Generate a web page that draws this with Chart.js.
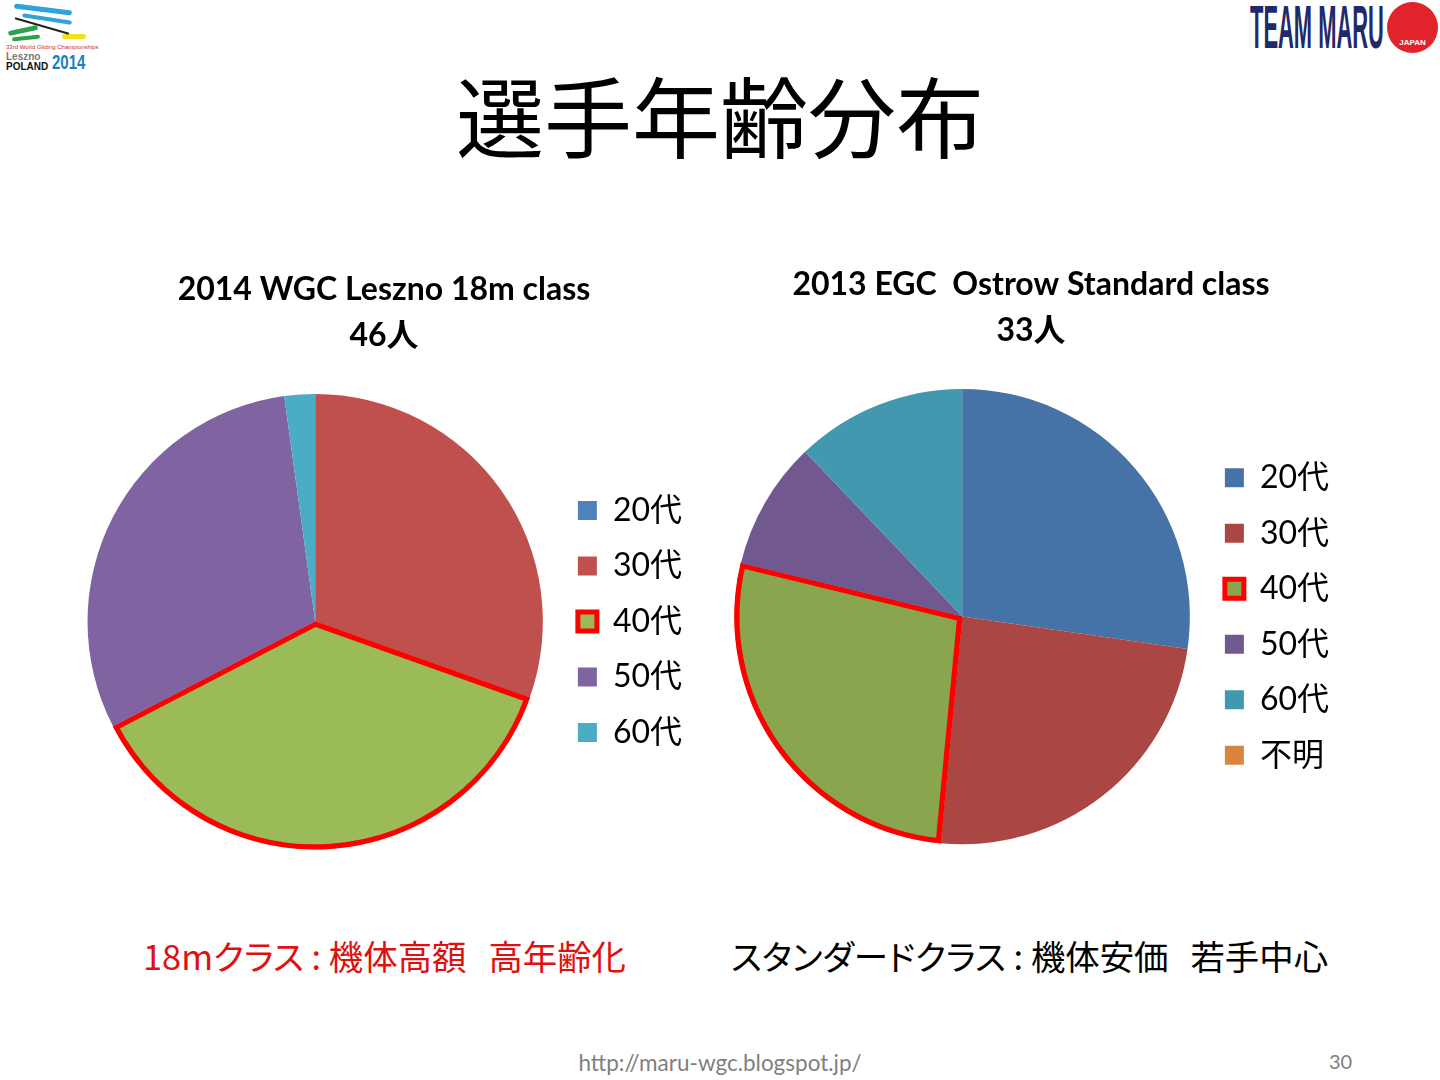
<!DOCTYPE html>
<html lang="ja">
<head>
<meta charset="utf-8">
<title>選手年齢分布</title>
<script src="https://cdn.jsdelivr.net/npm/chart.js@4.4.1/dist/chart.umd.min.js"></script>
<style>
  html, body { margin: 0; padding: 0; background: #fff; }
  body { width: 1440px; height: 1080px; position: relative; overflow: hidden;
         font-family: "Noto Sans CJK JP", "Lato", sans-serif; }
  .abs { position: absolute; }
  #mainTitle { left: 0; width: 1440px; top: 58px; text-align: center; font-size: 88px; line-height: 110px; color: #000; }
  .note { top: 930px; font-size: 34.4px; line-height: 50px; white-space: nowrap; font-feature-settings: "palt"; }
  .gap { display: inline-block; width: 22px; }
  #footer { left: 0; width: 1440px; top: 1049px; text-align: center; font-family: "Lato", sans-serif; font-size: 22.5px; color: #7f7f7f; }
  #page { left: 1329px; top: 1049px; font-family: "Lato", sans-serif; font-size: 20px; color: #7f7f7f; }
  #teamMaru { left: 1250px; top: -6px; font-family: "Liberation Sans Narrow", "Liberation Sans", sans-serif; font-weight: bold;
              font-size: 62px; line-height: 66px; color: #1f2a6b; transform-origin: left top; white-space: nowrap; }
  #maruCircle { left: 1387px; top: 2px; width: 51px; height: 51px; border-radius: 50%; background: #e3232c; color: #fff;
                font: bold 8px "Liberation Sans", sans-serif; text-align: center; }
  .lz { position: absolute; font-family: "Liberation Sans", sans-serif; font-weight: bold; white-space: nowrap; line-height: 1; }
</style>
</head>
<body>
<!-- ロゴ（簡易） -->
<div class="abs" style="left:14px;top:7px;width:58px;height:5px;background:#2fa3dc;border-radius:3px;transform:rotate(7deg);"></div>
<div class="abs" style="left:22px;top:17px;width:50px;height:4px;background:#2fa3dc;border-radius:3px;transform:rotate(9deg);"></div>
<div class="abs" style="left:8px;top:28px;width:30px;height:5px;background:#2aa34a;border-radius:3px;transform:rotate(-12deg);"></div>
<div class="abs" style="left:12px;top:36px;width:28px;height:4px;background:#2aa34a;border-radius:3px;transform:rotate(-6deg);"></div>
<div class="abs" style="left:62px;top:34px;width:24px;height:5px;background:#f2e21b;border-radius:3px;"></div>
<div class="abs" style="left:14px;top:25px;width:56px;height:2px;background:#222;transform:rotate(16deg);"></div>
<div class="lz" style="left:6px;top:44px;font-size:6px;color:#d62b2b;font-weight:normal;">33rd World Gliding Championships</div>
<div class="lz" style="left:6px;top:52px;font-size:10px;color:#777;">Leszno</div>
<div class="lz" style="left:6px;top:62px;font-size:10px;color:#111;">POLAND</div>
<div class="lz" style="left:52px;top:52px;font-size:20px;color:#1c7fc4;transform:scaleX(0.75);transform-origin:left top;">2014</div>
<div id="teamMaru" class="abs">TEAM MARU</div>
<div id="maruCircle" class="abs"><div style="padding-top:36px;">JAPAN</div></div>

<div id="mainTitle" class="abs">選手年齢分布</div>

<canvas id="chartLeft" class="abs" width="688" height="617" style="left:40px;top:257px;"></canvas>
<canvas id="chartRight" class="abs" width="740" height="617" style="left:662px;top:252px;"></canvas>

<div class="abs note" style="left:143px;color:#e01010;">18mクラス : 機体高額<span class="gap"></span>高年齢化</div>
<div class="abs note" style="left:731px;color:#000;">スタンダードクラス : 機体安価<span class="gap"></span>若手中心</div>

<div id="footer" class="abs">http://maru-wgc.blogspot.jp/</div>
<div id="page" class="abs">30</div>

<script>
// データ
const ageLabelsLeft = ["20代", "30代", "40代", "50代", "60代"];
const countsLeft = [0, 14, 17, 14, 1];          // 46人
const colorsLeft = ["#4F81BD", "#C0504D", "#9BBB59", "#8064A2", "#4BACC6"];

const ageLabelsRight = ["20代", "30代", "40代", "50代", "60代", "不明"];
const countsRight = [9, 8, 9, 3, 4, 0];         // 33人
const colorsRight = ["#4572A7", "#AA4643", "#89A54E", "#71588F", "#4198AF", "#DB843D"];

const titleLeft = ["2014 WGC Leszno 18m class", "46人"];
const titleRight = ["2013 EGC  Ostrow Standard class", "33人"];

const highlight = 2; // 40代を赤枠で強調
const baseFont = '"Lato", "Noto Sans CJK JP", sans-serif';

// ロゴ文字幅合わせ
const tm = document.getElementById("teamMaru");
tm.style.transform = "scaleX(" + (134 / tm.offsetWidth) + ")";

function makePie(id, labels, values, colors, title, padLeft, padRight) {
  const borders = labels.map((_, i) => i === highlight ? "#FF0000" : "#ffffff");
  const widths = labels.map((_, i) => i === highlight ? 5 : 0);
  new Chart(document.getElementById(id), {
    type: "pie",
    data: {
      labels: labels,
      datasets: [{
        data: values,
        backgroundColor: colors,
        borderColor: borders,
        borderWidth: widths,
        borderAlign: "inner",
        radius: 228,
        hoverOffset: 0
      }]
    },
    options: {
      responsive: false,
      animation: false,
      layout: { padding: { left: padLeft, right: padRight, top: 0, bottom: 0 } },
      plugins: {
        title: {
          display: true,
          text: title,
          color: "#000",
          font: { family: baseFont, size: 32, weight: "bold", lineHeight: 1.44 },
          padding: { top: 10, bottom: 10 }
        },
        legend: {
          position: "right",
          // 凡例をグラフ中心の高さへ下げるための空タイトル
          title: { display: true, text: "", font: { size: 12, lineHeight: 1 }, padding: { top: 50, bottom: 50 } },
          labels: {
            color: "#000",
            font: { family: baseFont, size: 32 },
            boxWidth: 19,
            boxHeight: 19,
            padding: 23.5
          }
        },
        tooltip: { enabled: false }
      }
    }
  });
}

makePie("chartLeft", ageLabelsLeft, countsLeft, colorsLeft, titleLeft, 36, 36);
makePie("chartRight", ageLabelsRight, countsRight, colorsRight, titleRight, 61, 63);
</script>
</body>
</html>
